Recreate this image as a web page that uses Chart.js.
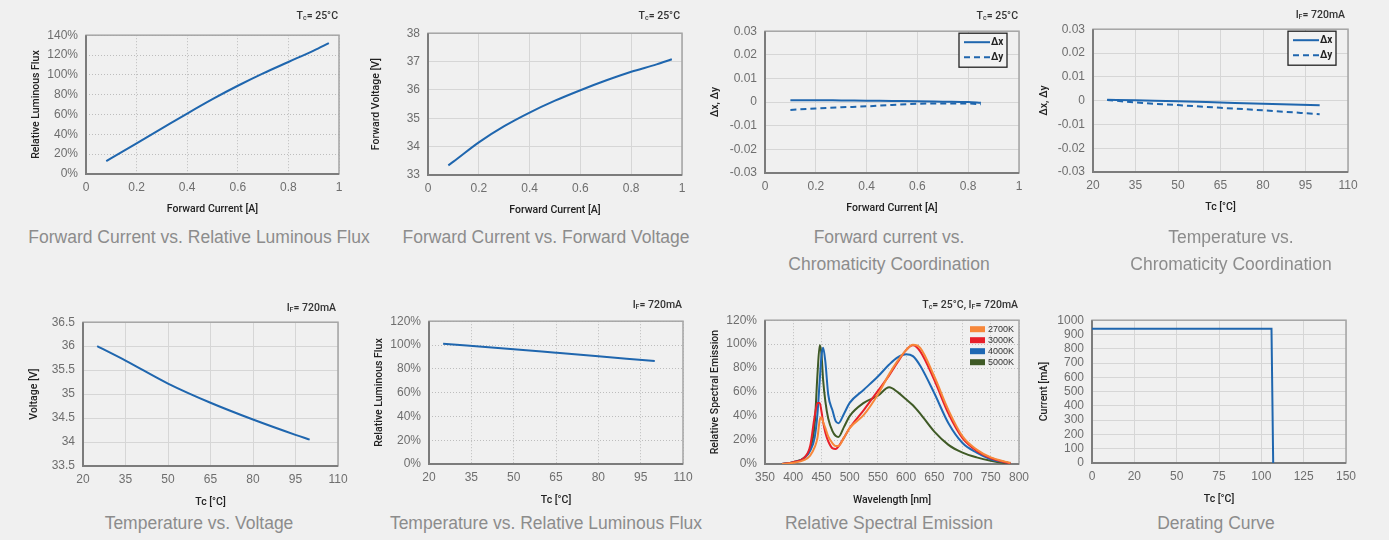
<!DOCTYPE html>
<html>
<head>
<meta charset="utf-8">
<script src="https://cdn.jsdelivr.net/npm/chart.js@4.4.1/dist/chart.umd.min.js"></script>
<style>
  body { margin: 0; background: #f0f0f0; }
  #page { position: relative; width: 1389px; height: 540px; overflow: hidden; font-family: "Liberation Sans", Arial, sans-serif; }
  canvas { position: absolute; }
  .note { position: absolute; font: 500 10.5px Roboto, sans-serif; color: #333; white-space: nowrap; transform: translateX(-100%); line-height: 14px; }
  .note sub { font-size: 7px; vertical-align: -1px; }
  .cap { position: absolute; width: 400px; transform: translateX(-50%); text-align: center; font-size: 17.5px; line-height: 27px; color: #8c8c8c; }
</style>
</head>
<body>
<div id="page">
  <canvas id="c1"></canvas><canvas id="c2"></canvas><canvas id="c3"></canvas><canvas id="c4"></canvas>
  <canvas id="c5"></canvas><canvas id="c6"></canvas><canvas id="c7"></canvas><canvas id="c8"></canvas>

  <div class="note" style="left:338px;top:9px">T<sub>c</sub>= 25°C</div>
  <div class="note" style="left:680px;top:9px">T<sub>c</sub>= 25°C</div>
  <div class="note" style="left:1018px;top:9px">T<sub>c</sub>= 25°C</div>
  <div class="note" style="left:1345px;top:8px">I<sub>F</sub>= 720mA</div>
  <div class="note" style="left:336px;top:301px">I<sub>F</sub>= 720mA</div>
  <div class="note" style="left:682px;top:298px">I<sub>F</sub>= 720mA</div>
  <div class="note" style="left:1018px;top:298px">T<sub>c</sub>= 25°C, I<sub>F</sub>= 720mA</div>

  <div class="cap" style="left:199px;top:224px">Forward Current vs. Relative Luminous Flux</div>
  <div class="cap" style="left:546px;top:224px">Forward Current vs. Forward Voltage</div>
  <div class="cap" style="left:889px;top:224px">Forward current vs.<br>Chromaticity Coordination</div>
  <div class="cap" style="left:1231px;top:224px">Temperature vs.<br>Chromaticity Coordination</div>
  <div class="cap" style="left:199px;top:510px">Temperature vs. Voltage</div>
  <div class="cap" style="left:546px;top:510px">Temperature vs. Relative Luminous Flux</div>
  <div class="cap" style="left:889px;top:510px">Relative Spectral Emission</div>
  <div class="cap" style="left:1216px;top:510px">Derating Curve</div>
</div>
<script>
// ---- data ----
const currents = [0.08, 0.1, 0.2, 0.3, 0.4, 0.5, 0.6, 0.7, 0.8, 0.9, 0.96];
const relFlux = [13, 16, 31, 46, 61, 75.5, 89, 101.5, 113, 124.5, 132];
const fwdVoltage = [33.34, 33.47, 34.15, 34.72, 35.2, 35.62, 35.99, 36.33, 36.64, 36.9, 37.08];

const chromaCurrents = [0.1, 0.2, 0.3, 0.4, 0.5, 0.6, 0.7, 0.8, 0.85];
const dxByCurrent = [0.0008, 0.0008, 0.0007, 0.0006, 0.0005, 0.0004, 0.0002, 0.0000, -0.0003];
const dyByCurrent = [-0.0033, -0.0027, -0.0022, -0.0018, -0.0012, -0.0007, -0.0006, -0.0006, -0.0009];

const chromaTemps = [25, 35, 50, 65, 80, 100];
const dxByTemp = [0.0004, 0.0001, -0.0003, -0.0008, -0.0013, -0.002];
const dyByTemp = [0.0003, -0.0008, -0.0019, -0.0030, -0.0041, -0.0057];

const voltTemps = [25, 35, 50, 65, 80, 95, 100];
const voltByTemp = [36.0, 35.7, 35.22, 34.82, 34.47, 34.15, 34.05];

const fluxTemps = [25, 50, 65, 80, 100];
const fluxByTemp = [101, 96.5, 93.5, 90.5, 86.5];

const wavelengths = [380, 400, 420, 430, 438, 443, 447, 450, 453, 457, 462, 470, 475, 480, 490, 500, 525, 550, 570, 585, 600, 612, 625, 650, 675, 700, 725, 750, 775, 785];
const spec2700 = [0, 1, 3.5, 7, 14, 22, 37, 39, 35, 30, 23, 17, 15, 15, 22, 30, 41, 58, 75, 86, 95, 99.5, 97, 73, 45, 23, 12, 5.5, 2, 1];
const spec3000 = [0, 1.5, 5.5, 15, 40, 51, 51, 44, 35, 26, 19, 13, 12.5, 14.5, 22, 30, 45, 61, 74, 85, 95, 99, 94, 70, 42, 21.5, 11, 5, 1.5, 0.5];
const spec4000 = [0, 1.5, 5, 11, 22, 42, 70, 90, 97, 85, 58, 44, 36, 34, 42, 51, 62, 73, 83, 89, 91.5, 90, 82, 59, 34, 17.5, 9.5, 4, 1.4, 0.5];
const spec5000 = [0, 1.5, 5.5, 13, 33, 75, 99, 92, 70, 52, 38, 27, 23.5, 22.5, 31, 40, 51, 57, 64, 60, 54, 49, 42, 27, 16, 9.5, 5.5, 2.7, 0.8, 0.3];
const specLabels = ['2700K', '3000K', '4000K', '5000K'];

const derateTemps = [0, 106, 107];
const derateCurrent = [940, 940, 0];
const derateTickLabels = ['0', '20', '50', '75', '100', '125', '150'];

// ---- styling ----
const BLUE = '#1f66ae';
const specColors = ['#f7873a', '#e8202a', '#1f68b3', '#3f5a26'];
const TICK_FONT = { family: '"Liberation Sans", Arial, sans-serif', size: 12 };
const TITLE_FONT = { family: 'Roboto, sans-serif', size: 10.5, weight: '500' };

const fmt = v => String(Math.round(v * 10000) / 10000);
const pct = v => fmt(v) + '%';
const pts = (xs, ys) => xs.map((x, i) => ({ x: x, y: ys[i] }));

// plot frame: light top/right, darker left/bottom axis
const framePlugin = {
  id: 'frame',
  beforeDatasetsDraw(chart) {
    const { ctx, chartArea: a } = chart;
    ctx.save();
    ctx.strokeStyle = '#a5a5a5';
    ctx.lineWidth = 1.5;
    ctx.strokeRect(a.left, a.top, a.right - a.left, a.bottom - a.top);
    ctx.strokeStyle = '#7c7c7c';
    ctx.lineWidth = 2;
    ctx.beginPath();
    ctx.moveTo(a.left, a.top);
    ctx.lineTo(a.left, a.bottom);
    ctx.lineTo(a.right, a.bottom);
    ctx.stroke();
    ctx.restore();
  }
};

// boxed legend with line samples (chromaticity charts)
const boxLegend = {
  id: 'boxLegend',
  afterDraw(chart) {
    const { ctx, chartArea: a } = chart;
    const x0 = a.right - 60, y0 = a.top + 2;
    ctx.save();
    ctx.fillStyle = '#f2f2f2';
    ctx.fillRect(x0, y0, 48, 34);
    ctx.strokeStyle = '#222';
    ctx.lineWidth = 1.3;
    ctx.strokeRect(x0, y0, 48, 34);
    chart.data.datasets.forEach((ds, i) => {
      const y = y0 + 9 + i * 15;
      ctx.strokeStyle = ds.borderColor;
      ctx.lineWidth = 2;
      ctx.setLineDash(ds.borderDash || []);
      ctx.beginPath();
      ctx.moveTo(x0 + 5, y);
      ctx.lineTo(x0 + 31, y);
      ctx.stroke();
      ctx.setLineDash([]);
      ctx.fillStyle = '#222';
      ctx.font = 'bold 10px Roboto, sans-serif';
      ctx.textBaseline = 'middle';
      ctx.fillText(ds.label, x0 + 32, y);
    });
    ctx.restore();
  }
};

// swatch legend (spectrum chart)
const swatchLegend = {
  id: 'swatchLegend',
  afterDraw(chart) {
    const { ctx, chartArea: a } = chart;
    const x0 = a.right - 49;
    ctx.save();
    chart.data.datasets.forEach((ds, i) => {
      const y = a.top + 9 + i * 11;
      ctx.fillStyle = ds.borderColor;
      ctx.fillRect(x0, y - 3, 15, 6);
      ctx.fillStyle = '#333';
      ctx.font = '9px "Liberation Sans", Arial, sans-serif';
      ctx.textBaseline = 'middle';
      ctx.fillText(ds.label, x0 + 18, y);
    });
    ctx.restore();
  }
};

function axis(o, isX, box, dotted) {
  return {
    type: 'linear',
    min: o.min, max: o.max,
    ticks: {
      stepSize: o.step, autoSkip: false, maxRotation: 0,
      padding: isX ? 6 : 8, color: '#6e6e6e', font: TICK_FONT,
      callback: o.cb || fmt
    },
    grid: { color: dotted ? '#bdbdbd' : '#d6d6d6', lineWidth: 1, drawTicks: false },
    border: { display: false, dash: dotted ? [1, 2] : [] },
    title: { display: true, text: o.title, color: '#222', font: TITLE_FONT, padding: 0 },
    afterFit(scale) {
      if (isX) scale.height = box.xH;
      else scale.width = box.l - box.titleX + 6;
    }
  };
}

function makeChart(id, box, xo, yo, datasets, opts) {
  opts = opts || {};
  const padTop = 12, padRight = 22;
  const yW = box.l - box.titleX + 6;
  const cv = document.getElementById(id);
  cv.width = yW + (box.r - box.l) + padRight;
  cv.height = padTop + (box.b - box.t) + box.xH;
  cv.style.left = (box.l - yW) + 'px';
  cv.style.top = (box.t - padTop) + 'px';
  return new Chart(cv, {
    type: 'line',
    data: { datasets: datasets },
    options: {
      responsive: false,
      animation: false,
      layout: { padding: { top: padTop, right: padRight, left: 0, bottom: 0 } },
      elements: { point: { radius: 0 }, line: { borderWidth: 2, cubicInterpolationMode: 'monotone' } },
      plugins: { legend: { display: false }, tooltip: { enabled: false } },
      scales: { x: axis(xo, true, box, opts.dotted), y: axis(yo, false, box, opts.dotted) }
    },
    plugins: [framePlugin].concat(opts.plugins || [])
  });
}

const line = (label, xs, ys, color, dash) => ({
  label: label, data: pts(xs, ys), borderColor: color, borderDash: dash || [], fill: false
});

// row 1
makeChart('c1', { l: 86, t: 32, r: 339, b: 174, titleX: 36, xH: 42 },
  { min: 0, max: 1, step: 0.2, title: 'Forward Current [A]' },
  { min: 0, max: 140, step: 20, title: 'Relative Luminous Flux', cb: pct },
  [line('Flux', currents, relFlux, BLUE)], { dotted: true });

makeChart('c2', { l: 428, t: 30, r: 682, b: 175, titleX: 376, xH: 42 },
  { min: 0, max: 1, step: 0.2, title: 'Forward Current [A]' },
  { min: 33, max: 38, step: 1, title: 'Forward Voltage [V]' },
  [line('Vf', currents, fwdVoltage, BLUE)]);

makeChart('c3', { l: 765, t: 28, r: 1019, b: 173, titleX: 715, xH: 42 },
  { min: 0, max: 1, step: 0.2, title: 'Forward Current [A]' },
  { min: -0.03, max: 0.03, step: 0.01, title: 'Δx, Δy' },
  [line('Δx', chromaCurrents, dxByCurrent, BLUE), line('Δy', chromaCurrents, dyByCurrent, BLUE, [6, 4])],
  { plugins: [boxLegend] });

makeChart('c4', { l: 1093, t: 26, r: 1348, b: 172, titleX: 1044, xH: 42 },
  { min: 20, max: 110, step: 15, title: 'Tc [°C]' },
  { min: -0.03, max: 0.03, step: 0.01, title: 'Δx, Δy' },
  [line('Δx', chromaTemps, dxByTemp, BLUE), line('Δy', chromaTemps, dyByTemp, BLUE, [6, 4])],
  { plugins: [boxLegend] });

// row 2
makeChart('c5', { l: 83, t: 319, r: 338, b: 466, titleX: 34, xH: 43 },
  { min: 20, max: 110, step: 15, title: 'Tc [°C]' },
  { min: 33.5, max: 36.5, step: 0.5, title: 'Voltage [V]' },
  [line('V', voltTemps, voltByTemp, BLUE)]);

makeChart('c6', { l: 429, t: 318, r: 683, b: 464, titleX: 379, xH: 43 },
  { min: 20, max: 110, step: 15, title: 'Tc [°C]' },
  { min: 0, max: 120, step: 20, title: 'Relative Luminous Flux', cb: pct },
  [line('Flux', fluxTemps, fluxByTemp, BLUE)], { dotted: true });

const specSeries = [spec2700, spec3000, spec4000, spec5000];
makeChart('c7', { l: 765, t: 317, r: 1019, b: 464, titleX: 715, xH: 43 },
  { min: 350, max: 800, step: 50, title: 'Wavelength [nm]' },
  { min: 0, max: 120, step: 20, title: 'Relative Spectral Emission', cb: pct },
  specSeries.map((s, i) => line(specLabels[i], wavelengths, s, specColors[i])),
  { dotted: true, plugins: [swatchLegend] });

makeChart('c8', { l: 1092, t: 317, r: 1346, b: 463, titleX: 1044, xH: 43 },
  { min: 0, max: 150, step: 25, title: 'Tc [°C]', cb: (v, i) => derateTickLabels[i] },
  { min: 0, max: 1000, step: 100, title: 'Current [mA]' },
  [Object.assign(line('Derating', derateTemps, derateCurrent, BLUE), { cubicInterpolationMode: 'default', tension: 0 })]);
</script>
</body>
</html>
